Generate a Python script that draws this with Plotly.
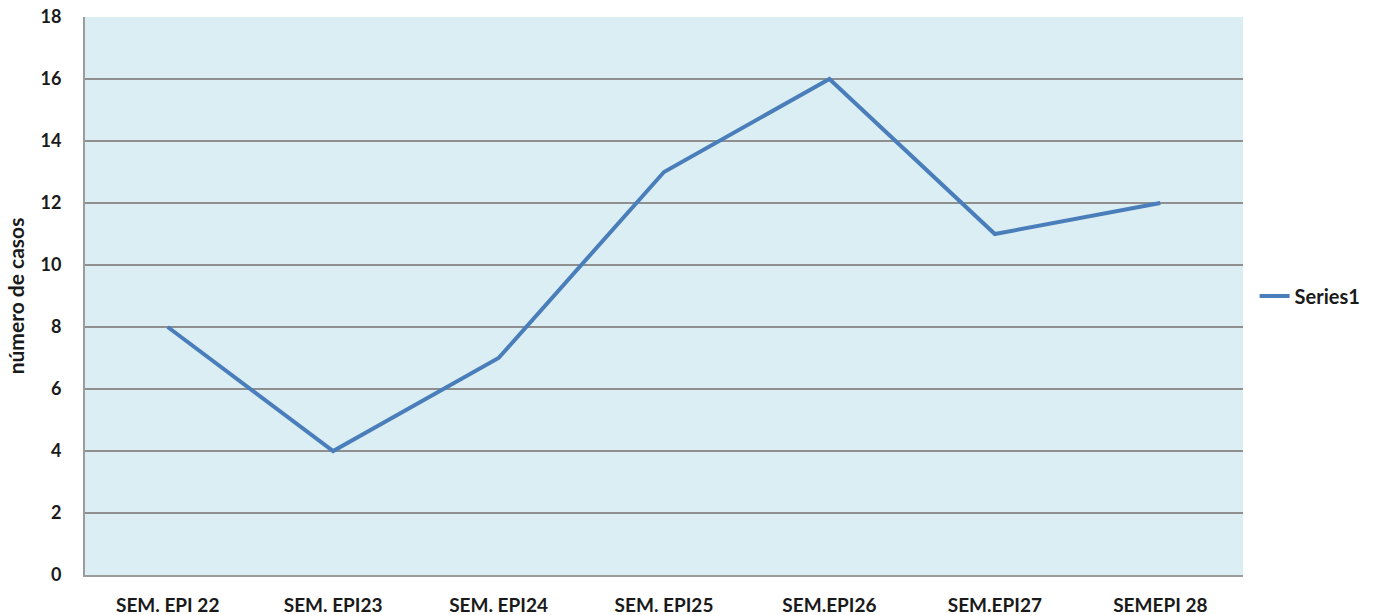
import plotly.graph_objects as go

categories = ["SEM. EPI 22", "SEM. EPI23", "SEM. EPI24", "SEM. EPI25",
              "SEM.EPI26", "SEM.EPI27", "SEMEPI 28"]
casos = [8, 4, 7, 13, 16, 11, 12]
y_ticks = list(range(0, 19, 2))

font_family = "Lato, Open Sans, sans-serif"
text_color = "#1a1a1a"

fig = go.Figure()
fig.add_trace(go.Scatter(
    x=categories, y=casos, mode="lines", name="Series1",
    line=dict(color="#4A7EBB", width=4),
))

fig.update_layout(
    width=1376, height=615,
    margin=dict(l=85, r=133, t=17, b=40, autoexpand=False),
    paper_bgcolor="white",
    plot_bgcolor="#DBEEF4",
    font=dict(family=font_family, size=18, color=text_color),
    showlegend=True,
    legend=dict(x=1.01, xanchor="left", y=0.5, yanchor="middle",
                font=dict(family=font_family, size=20, color=text_color, weight="bold"),
                bgcolor="rgba(0,0,0,0)", itemwidth=30),
)

fig.update_xaxes(
    type="category", range=[-0.5, 6.5], automargin=False,
    showgrid=False, showline=True, linecolor="#9c9c9c", linewidth=2,
    ticks="", ticklabelstandoff=12,
    tickfont=dict(family=font_family, size=19, weight="bold"),
)
fig.update_yaxes(
    range=[0, 18], tickvals=y_ticks, automargin=False,
    showgrid=True, gridcolor="#8f8f8f", gridwidth=2,
    showline=True, linecolor="#9c9c9c", linewidth=2,
    zeroline=False, ticks="", ticklabelstandoff=18,
    tickfont=dict(family=font_family, size=18, weight="bold"),
    title=dict(text="número de casos", standoff=10,
               font=dict(family=font_family, size=21, weight="bold")),
)

fig.write_html("out.html")
